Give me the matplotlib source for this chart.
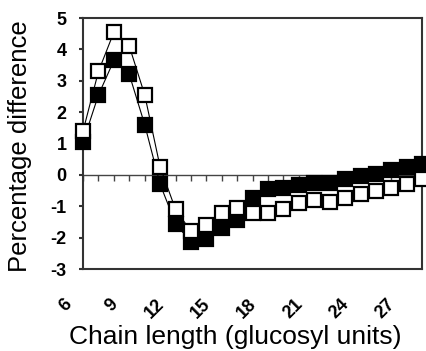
import matplotlib
matplotlib.use("Agg")
import matplotlib.pyplot as plt
import matplotlib.transforms as mtransforms

# chain length (glucosyl units)
chain_length = list(range(6, 29))

# open squares
open_values = [1.4, 3.3, 4.55, 4.1, 2.55, 0.25, -1.1, -1.8, -1.6, -1.2, -1.05, -1.2,
               -1.2, -1.1, -0.9, -0.8, -0.85, -0.73, -0.62, -0.5, -0.41, -0.28, -0.12]

# filled squares
filled_values = [1.05, 2.55, 3.65, 3.2, 1.6, -0.3, -1.55, -2.15, -2.05, -1.7, -1.43, -0.73,
                 -0.45, -0.42, -0.33, -0.25, -0.25, -0.13, -0.02, 0.04, 0.16, 0.24, 0.35]

x_tick_labels = [6, 9, 12, 15, 18, 21, 24, 27]
y_ticks = list(range(-3, 6))

plt.rcParams["font.family"] = ["Liberation Sans", "DejaVu Sans"]

fig = plt.figure(figsize=(4.26, 3.51), dpi=100)
ax = fig.add_axes([0.195, 0.2336, 0.796, 0.7151])

ax.plot(chain_length, filled_values, color="black", lw=0.8, marker="s", ms=9.5,
        mfc="black", mec="black", mew=1.6, clip_on=False, zorder=3)
ax.plot(chain_length, open_values, color="black", lw=0.8, marker="s", ms=9.5,
        mfc="white", mec="black", mew=1.6, clip_on=False, zorder=4)

ax.set_xlim(6, 28)
ax.set_ylim(-3, 5)

for side in ["left", "right", "top", "bottom"]:
    ax.spines[side].set_color("#333333")
    ax.spines[side].set_linewidth(1.5)

ax.set_yticks(y_ticks)
ax.set_yticklabels([str(v) for v in y_ticks], fontsize=13, fontweight="bold")
ax.tick_params(axis="y", direction="out", length=3, width=1.5, pad=9, color="#333333")

ax.set_xticks(x_tick_labels)
ax.set_xticklabels([str(v) for v in x_tick_labels], fontsize=13, fontweight="bold",
                   rotation=45, ha="right", va="top")
ax.tick_params(axis="x", length=0, pad=19)
offset = mtransforms.ScaledTranslation(-0.08, 0, fig.dpi_scale_trans)
for lbl in ax.get_xticklabels():
    lbl.set_transform(lbl.get_transform() + offset)

# zero axis line with small category ticks
zero_axis = ax.secondary_xaxis(3 / 8)
zero_axis.set_alignment("bottom")
zero_axis.set_xticks(chain_length)
zero_axis.set_xticklabels([])
zero_axis.tick_params(direction="out", length=4, width=1, color="#444444")
zero_axis.spines["bottom"].set_color("#444444")
zero_axis.spines["bottom"].set_linewidth(1)

ax.set_ylabel("Percentage difference", fontsize=18.5)
ax.yaxis.set_label_coords(-0.15, 0.49)
ax.set_xlabel("Chain length (glucosyl units)", fontsize=19)
ax.xaxis.set_label_coords(0.448, -0.222)

fig.savefig("out.png", dpi=100)
